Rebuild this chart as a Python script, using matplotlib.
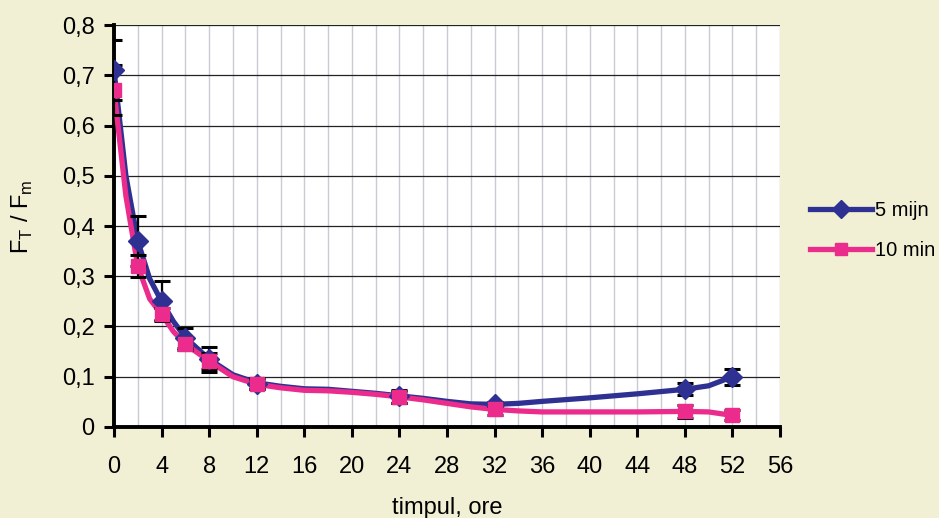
import numpy as np
import matplotlib.pyplot as plt

plt.rcParams['font.family'] = ['Liberation Sans', 'DejaVu Sans']

# measured points (hours) with standard deviations
t_meas = [0, 2, 4, 6, 8, 12, 24, 32, 48, 52]
r5_meas = [0.71, 0.37, 0.25, 0.178, 0.135, 0.086, 0.061, 0.046, 0.075, 0.100]
r5_err = [0.06, 0.05, 0.04, 0.020, 0.025, 0.010, 0.013, 0.004, 0.012, 0.016]
r10_meas = [0.67, 0.32, 0.224, 0.165, 0.131, 0.086, 0.060, 0.035, 0.031, 0.023]
r10_err = [0.05, 0.022, 0.012, 0.012, 0.016, 0.011, 0.012, 0.011, 0.013, 0.010]

# curve traced between the measurements
t_curve = [0, 1, 2, 3, 4, 5, 6, 8, 10, 12, 14, 16, 18, 20, 22, 24, 26, 28,
           30, 32, 34, 36, 40, 44, 48, 50, 52]
r5_curve = [0.71, 0.50, 0.37, 0.295, 0.25, 0.21, 0.178, 0.135, 0.104, 0.088,
            0.081, 0.076, 0.075, 0.071, 0.067, 0.062, 0.057, 0.051,
            0.046, 0.045, 0.047, 0.051, 0.058, 0.066, 0.075, 0.082, 0.100]
r10_curve = [0.67, 0.46, 0.32, 0.255, 0.224, 0.19, 0.165, 0.131, 0.100, 0.085,
             0.078, 0.073, 0.072, 0.069, 0.065, 0.060, 0.054, 0.047,
             0.040, 0.035, 0.032, 0.030, 0.030, 0.030, 0.031, 0.030, 0.023]

blue = '#2E3192'
pink = '#EC2C8C'
bg = '#F2F0D4'

fig = plt.figure(figsize=(9.39, 5.18), dpi=100, facecolor=bg)
ax = fig.add_axes([0.1214, 0.1757, 0.7093, 0.776])
ax.set_facecolor('white')

ax.plot(t_curve, r5_curve, color=blue, lw=3.8, zorder=3, solid_joinstyle='round')
ax.plot(t_curve, r10_curve, color=pink, lw=3.8, zorder=4, solid_joinstyle='round')

ax.errorbar(t_meas, r5_meas, yerr=r5_err, fmt='none', ecolor='black',
            elinewidth=1.6, capsize=6, capthick=2.2, zorder=5)
ax.errorbar(t_meas, r10_meas, yerr=r10_err, fmt='none', ecolor='black',
            elinewidth=1.6, capsize=6, capthick=2.2, zorder=5)

ax.plot(t_meas, r5_meas, 'D', color=blue, ms=10, zorder=6)
ax.plot(t_meas, r10_meas, 's', color=pink, ms=9.5, zorder=7)

# legend entries: line with marker
h5, = ax.plot([], [], color=blue, lw=3.8, marker='D', ms=9, label='5 mijn')
h10, = ax.plot([], [], color=pink, lw=3.8, marker='s', ms=9, label='10 min')
fig.legend(handles=[h5, h10], loc='center left', bbox_to_anchor=(0.843, 0.555),
           frameon=False, fontsize=14.5, handlelength=3.1, handletextpad=0.15,
           labelspacing=1.0)

ax.set_xlim(0, 56)
ax.set_ylim(0, 0.8)
ax.set_xticks(np.arange(0, 57, 4))
ax.set_xticks(np.arange(0, 57, 2), minor=True)
ax.set_yticks(np.arange(0, 0.81, 0.1))
ax.set_yticklabels(['0' if v == 0 else f'{v:.1f}'.replace('.', ',')
                    for v in np.arange(0, 0.81, 0.1)])

ax.grid(axis='x', which='both', color='#CACAD2', lw=1, zorder=0)
ax.grid(axis='y', which='major', color='#222222', lw=0.9, zorder=0)
ax.set_axisbelow(True)

for side in ['top', 'right']:
    ax.spines[side].set_visible(False)
for side in ['left', 'bottom']:
    ax.spines[side].set_linewidth(2.8)

ax.tick_params(axis='both', which='major', direction='out', length=7, width=2.2,
               labelsize=17)
ax.tick_params(axis='x', which='minor', length=0)
ax.tick_params(axis='x', pad=14)
ax.tick_params(axis='y', pad=7)

ax.set_xlabel('timpul, ore', fontsize=17)
ax.xaxis.set_label_coords(0.5, -0.175)
ax.set_ylabel('F$_\\mathregular{T}$ / F$_\\mathregular{m}$', fontsize=17)
ax.yaxis.set_label_coords(-0.118, 0.522)

fig.savefig('out.png', dpi=100, facecolor=bg)
